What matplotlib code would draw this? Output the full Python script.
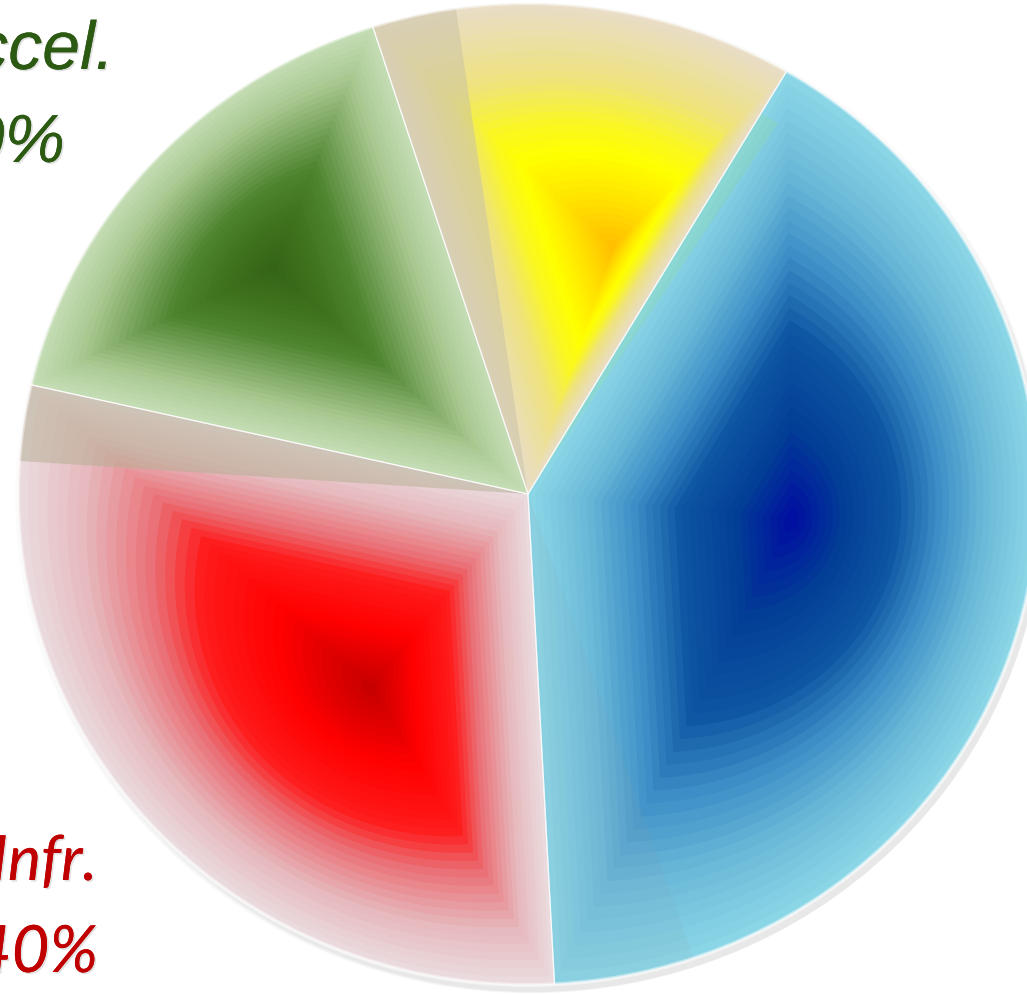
import matplotlib
matplotlib.use("Agg")
import matplotlib.pyplot as plt
import matplotlib.patheffects as pe
import numpy as np
from matplotlib.colors import LinearSegmentedColormap
from matplotlib.patches import Polygon, Wedge, Circle

# slice shares (%), in counter-clockwise order from the start angle
slices = ["Yellow", "Accel.", "Infr.", "Blue"]
shares = [13.4, 16.5, 29.4, 40.7]
start_angle = 59.5

# text labels at the left margin
label_top = ["Accel.", "20%"]
label_bottom = ["Infr.", "40%"]

# colour ramps: outer edge -> darkest point
RAMPS = {
    "Yellow": [(0.0, "#e9ddc6"), (0.3, "#eee27e"), (0.5, "#fbf820"),
               (0.62, "#ffff00"), (0.8, "#ffe400"), (1.0, "#ffc000")],
    "Accel.": [(0.0, "#c4dcb4"), (0.2, "#a8c890"), (0.4, "#7aa55e"),
               (0.58, "#4f8530"), (0.78, "#40731e"), (1.0, "#356416")],
    "Infr.":  [(0.0, "#eadadd"), (0.18, "#e6b8bc"), (0.38, "#ea6e74"),
               (0.52, "#ff1a1a"), (0.75, "#ff0000"), (1.0, "#c80000")],
    "Blue":   [(0.0, "#8ad6e6"), (0.2, "#6cbad9"), (0.4, "#3d8ec6"),
               (0.58, "#0d55a2"), (0.8, "#023e96"), (1.0, "#0010a0")],
}
# darkest point of each slice: (angle offset from slice middle, radius)
FOCUS = {
    "Yellow": (-12.0, 0.53),
    "Accel.": (0.0, 0.68),
    "Infr.":  (12.0, 0.50),
    "Blue":   (8.0, 0.52),
}

W, H = 1027, 995
CX, CY, RX, RY = 528, 495, 510, 491

fig = plt.figure(figsize=(W / 100, H / 100), dpi=100)
ax = fig.add_axes([0, 0, 1, 1])

wedges, _ = ax.pie(shares, startangle=start_angle, counterclock=True,
                   colors=[RAMPS[s][0][1] for s in slices],
                   wedgeprops=dict(linewidth=0, zorder=1))
ax.set_aspect("auto")
ax.set_xlim(-CX / RX, (W - CX) / RX)
ax.set_ylim(-(H - CY) / RY, CY / RY)
ax.axis("off")

# soft drop shadow under the lower-right rim
for k, a in enumerate([0.03, 0.03, 0.04, 0.05]):
    ax.add_patch(Circle((0.004 + 0.002 * k, -0.008 - 0.002 * k), 1.0 + 0.003 * (3 - k),
                        facecolor="#666666", edgecolor="none", alpha=a, zorder=0))


def wedge_outline(t1, t2, n=240):
    th = np.radians(np.linspace(t1, t2, n))
    xs = np.concatenate([[0.0], np.cos(th)])
    ys = np.concatenate([[0.0], np.sin(th)])
    return np.column_stack([xs, ys])


n_steps = 36
for name, w in zip(slices, wedges):
    t1, t2 = w.theta1, w.theta2
    mid = 0.5 * (t1 + t2)
    off, rad = FOCUS[name]
    fa = np.radians(mid + off)
    focus = np.array([rad * np.cos(fa), rad * np.sin(fa)])
    cmap = LinearSegmentedColormap.from_list(name, RAMPS[name])
    poly = wedge_outline(t1, t2)
    for k in range(n_steps):
        s = 1.0 - k / n_steps
        pts = focus + s * (poly - focus)
        ax.add_patch(Polygon(pts, closed=True, facecolor=cmap(k / (n_steps - 1)),
                             edgecolor="none", zorder=2))

# translucent bands along some slice borders
t_y1 = wedges[0].theta2
t_r1 = wedges[2].theta1
t_b1 = wedges[3].theta1
ax.add_patch(Wedge((0, 0), 1.0, t_y1 - 9.6, t_y1, facecolor="#c9c2a6",
                   edgecolor="none", alpha=0.5, zorder=3))
ax.add_patch(Wedge((0, 0), 1.0, t_r1, t_r1 + 9.0, facecolor="#b4ae92",
                   edgecolor="none", alpha=0.5, zorder=3))
ax.add_patch(Wedge((0, 0), 1.0, t_b1, t_b1 + 16.0, facecolor="#8a9eb0",
                   edgecolor="none", alpha=0.1, zorder=3))
ax.add_patch(Wedge((0, 0.0), 0.9, wedges[3].theta2 - 2.5, wedges[3].theta2,
                   facecolor="#8fdc90", edgecolor="none", alpha=0.22, zorder=3))

# thin light borders between slices and a soft rim
for w in wedges:
    ax.add_patch(Wedge((0, 0), 1.0, w.theta1, w.theta2, fill=False,
                       edgecolor="white", linewidth=0.9, alpha=0.7, zorder=4))
ax.add_patch(Circle((0, 0), 1.0, fill=False, edgecolor="white",
                    linewidth=3, alpha=0.45, zorder=4))

shadow = [pe.withSimplePatchShadow(offset=(1.2, -1.2), shadow_rgbFace="#888888",
                                   alpha=0.25), pe.Normal()]
green = "#2c5a12"
red = "#c00000"
fig.text(114 / W, 1 - 70 / H, label_top[0], ha="right", va="baseline",
         fontsize=49, style="italic", color=green, family="Liberation Sans",
         path_effects=shadow)
fig.text(65 / W, 1 - 163 / H, label_top[1], ha="right", va="baseline",
         fontsize=49, style="italic", color=green, family="Liberation Sans",
         path_effects=shadow)
fig.text(97 / W, 1 - 881 / H, label_bottom[0], ha="right", va="baseline",
         fontsize=45, style="italic", color=red, family="Lato",
         path_effects=shadow)
fig.text(98 / W, 1 - 973 / H, label_bottom[1], ha="right", va="baseline",
         fontsize=47, style="italic", color=red, family="Lato",
         path_effects=shadow)

fig.savefig("out.png", dpi=100, facecolor="white")
